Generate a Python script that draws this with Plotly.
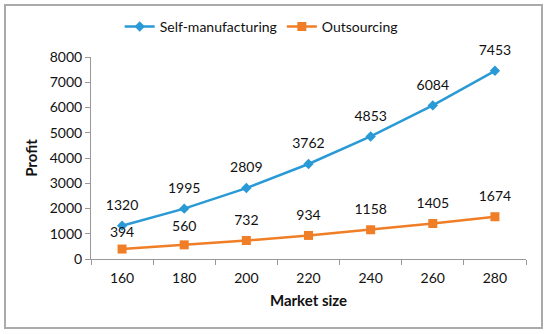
import plotly.graph_objects as go

market_size = ["160", "180", "200", "220", "240", "260", "280"]
self_manufacturing = [1320, 1995, 2809, 3762, 4853, 6084, 7453]
outsourcing = [394, 560, 732, 934, 1158, 1405, 1674]
y_ticks = [0, 1000, 2000, 3000, 4000, 5000, 6000, 7000, 8000]

FONT = "Lato"
blue = "#2A9AD6"
orange = "#F07E26"

fig = go.Figure()
fig.add_trace(go.Scatter(
    x=market_size, y=self_manufacturing, name="Self-manufacturing",
    mode="lines+markers",
    line=dict(color=blue, width=2.5), marker=dict(symbol="diamond", size=8, color=blue),
    cliponaxis=False))
fig.add_trace(go.Scatter(
    x=market_size, y=outsourcing, name="Outsourcing",
    mode="lines+markers",
    line=dict(color=orange, width=2.5), marker=dict(symbol="square", size=9, color=orange),
    cliponaxis=False))
# data labels (invisible larger markers push the labels up like Excel's)
for vals, sizes in ((self_manufacturing, 18), (outsourcing, [12, 15, 18, 18, 18, 18, 18])):
    fig.add_trace(go.Scatter(
        x=market_size, y=vals, mode="markers+text", text=[str(v) for v in vals],
        textposition="top center", textfont=dict(size=14, color="#111", family=FONT),
        marker=dict(size=sizes, opacity=0), showlegend=False, hoverinfo="skip",
        cliponaxis=False))

fig.update_layout(
    width=550, height=334,
    margin=dict(l=91, r=24, t=57, b=75, autoexpand=False),
    paper_bgcolor="white", plot_bgcolor="white",
    font=dict(family=FONT, size=14, color="#111"),
    showlegend=True,
    legend=dict(orientation="h", x=0.066, xanchor="left", y=1.149, yanchor="middle",
                font=dict(size=14, family=FONT), itemwidth=30, traceorder="normal"),
    xaxis=dict(type="category", range=[-0.5, 6.5], showgrid=False,
               showline=True, linecolor="#999", linewidth=1,
               ticks="outside", ticklen=5, tickcolor="#999", tickson="boundaries",
               ticklabelstandoff=6,
               title=dict(text="<b>Market size</b>", font=dict(size=15, family=FONT), standoff=10),
               tickfont=dict(size=14, family=FONT)),
    yaxis=dict(range=[0, 8000], tickvals=y_ticks, showgrid=False, zeroline=False,
               showline=True, linecolor="#999", linewidth=1,
               ticks="outside", ticklen=5, tickcolor="#999",
               title=dict(text="<b>Profit</b>", font=dict(size=15, family=FONT), standoff=8),
               tickfont=dict(size=14, family=FONT)),
    shapes=[dict(type="rect", xref="paper", yref="paper",
                 x0=(5 - 91) / 435, x1=(542 - 91) / 435,
                 y0=(259 - 328) / 202, y1=(259 - 5) / 202,
                 line=dict(color="#AAAAAA", width=2), layer="above")],
)

fig.write_html("out.html", config={"displayModeBar": False},
               post_script="document.body.style.margin='0';document.body.style.overflow='hidden';")
